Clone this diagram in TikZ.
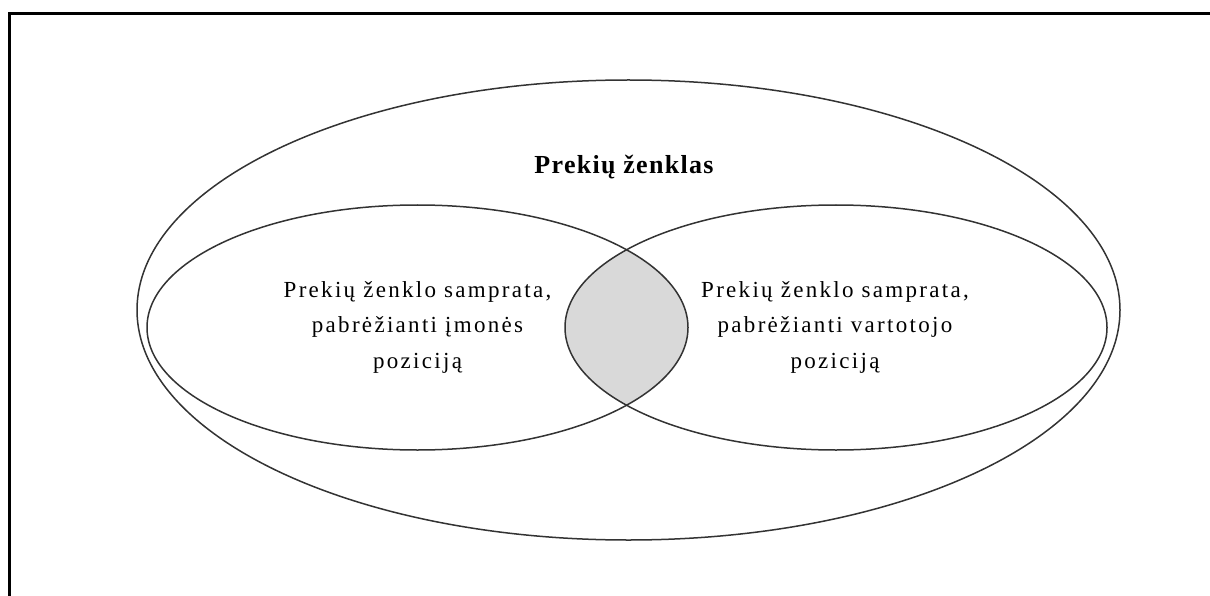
\documentclass[tikz,border=0pt]{standalone}
\usepackage{fontspec}
\setmainfont{Liberation Serif}
\newfontfamily\bodyfont[LetterSpace=10]{Liberation Serif}
\newfontfamily\titlefont[LetterSpace=5]{Liberation Serif}
\tikzset{
  frameline/.style={line width=3pt, black},
  venn/.style={line width=1.5pt, black!80},
  lens/.style={fill=black!15},
  bodytext/.style={align=center, inner sep=0pt, anchor=base,
    font=\bodyfont\fontsize{23}{35.5}\selectfont},
  titletext/.style={inner sep=0pt, anchor=base,
    font=\titlefont\bfseries\fontsize{26}{30}\selectfont}
}
\begin{document}
\begin{tikzpicture}[x=1pt, y=-1pt]
  \useasboundingbox (0,0) rectangle (1210,596);

  % open frame: left and top edges only
  \coordinate (fb) at (9,596);
  \coordinate (fc) at (9,14);
  \coordinate (fr) at (1210,14);
  \draw[frameline] (fb) -- (fc) -- (fr);

  % shaded overlap of the two inner ellipses
  \begin{scope}
    \clip (417.5,327.5) ellipse [x radius=270.5pt, y radius=122.5pt];
    \fill[lens] (836,327.5) ellipse [x radius=271pt, y radius=122.5pt];
  \end{scope}

  % outer and inner ellipses
  \draw[venn] (628.5,310) ellipse [x radius=491.5pt, y radius=230pt];
  \draw[venn] (417.5,327.5) ellipse [x radius=270.5pt, y radius=122.5pt];
  \draw[venn] (836,327.5) ellipse [x radius=271pt, y radius=122.5pt];

  % labels (base anchor sits on the last line)
  \node[titletext] (title) at (624,174) {Prekių ženklas};
  \node[bodytext] (left) at (417.5,368)
    {Prekių ženklo samprata,\\pabrėžianti įmonės\\poziciją};
  \node[bodytext] (right) at (835,368)
    {Prekių ženklo samprata,\\pabrėžianti vartotojo\\poziciją};
\end{tikzpicture}
\end{document}
